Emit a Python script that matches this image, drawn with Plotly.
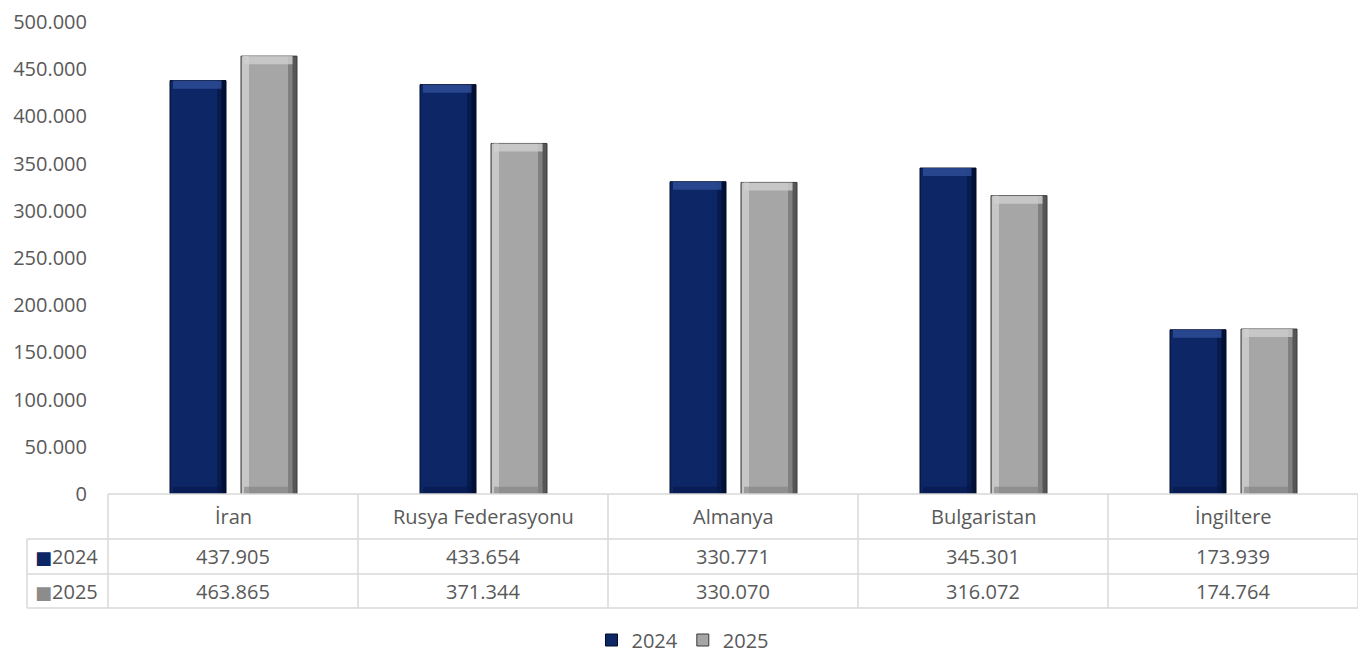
import plotly.graph_objects as go

categories = ["İran", "Rusya Federasyonu", "Almanya", "Bulgaristan", "İngiltere"]
years = ["2024", "2025"]
values_2024 = [437905, 433654, 330771, 345301, 173939]
values_2025 = [463865, 371344, 330070, 316072, 174764]
y_ticks = [0, 50000, 100000, 150000, 200000, 250000, 300000, 350000, 400000, 450000, 500000]

FONT = "Open Sans"
TXT = "#595959"
GRID = "#d9d9d9"
FS = 20

series = [
    dict(name="2024", vals=values_2024, main="#0d2666", top="#2f4f98", right="#000a26",
         left="#163278", bottom="#05184a", offset=-0.252, lop=0.0),
    dict(name="2025", vals=values_2025, main="#a6a6a6", top="#d0d0d0", right="#3a3a3a",
         left="#cfcfcf", bottom="#808080", offset=0.032, lop=0.8),
]
W = 0.224
cap = 8500
fig = go.Figure()
for s in series:
    v = s["vals"]
    fig.add_trace(go.Bar(x=categories, y=v, name=s["name"], width=W, offset=s["offset"],
                         marker=dict(color=s["main"], line=dict(color=s["right"], width=1)),
                         showlegend=True, legendgroup=s["name"]))
    fig.add_trace(go.Bar(x=categories, y=v, width=0.028, offset=s["offset"] + 0.004,
                         marker=dict(color=s["left"], line=dict(width=0)),
                         showlegend=False, hoverinfo="skip", opacity=s["lop"]))
    fig.add_trace(go.Bar(x=categories, y=v, width=0.036, offset=s["offset"] + W - 0.036,
                         marker=dict(color=s["right"], line=dict(width=0)),
                         showlegend=False, hoverinfo="skip", opacity=0.35))
    fig.add_trace(go.Bar(x=categories, y=v, width=0.018, offset=s["offset"] + W - 0.018,
                         marker=dict(color=s["right"], line=dict(width=0)),
                         showlegend=False, hoverinfo="skip", opacity=0.6))
    fig.add_trace(go.Bar(x=categories, y=[cap] * len(v), base=[x - cap for x in v],
                         width=W - 0.03, offset=s["offset"] + 0.012,
                         marker=dict(color=s["top"], line=dict(width=0)),
                         showlegend=False, hoverinfo="skip", opacity=0.8))
    fig.add_trace(go.Bar(x=categories, y=[cap * 0.9] * len(v),
                         width=W - 0.03, offset=s["offset"] + 0.012,
                         marker=dict(color=s["bottom"], line=dict(width=0)),
                         showlegend=False, hoverinfo="skip", opacity=0.6))

T, B = 14, 162
PH = 648 - T - B
row_y = [0, -45 / PH, -80 / PH, -114 / PH]
left_x = (27 - 108) / 1250
shapes = []
line = dict(color=GRID, width=1.5)
shapes.append(dict(type="line", xref="paper", yref="paper", x0=0, x1=1, y0=row_y[0], y1=row_y[0], line=line))
for ry in row_y[1:]:
    shapes.append(dict(type="line", xref="paper", yref="paper", x0=left_x, x1=1, y0=ry, y1=ry, line=line))
shapes.append(dict(type="line", xref="paper", yref="paper", x0=left_x, x1=left_x, y0=row_y[1], y1=row_y[3], line=line))
for i in range(len(categories) + 1):
    xv = i / len(categories)
    shapes.append(dict(type="line", xref="paper", yref="paper", x0=xv, x1=xv, y0=row_y[0], y1=row_y[3], line=line))

def fmt(n):
    return f"{n:,}".replace(",", ".")

ann = []
hy = (row_y[0] + row_y[1]) / 2
r1 = (row_y[1] + row_y[2]) / 2
r2 = (row_y[2] + row_y[3]) / 2
tf = dict(family=FONT, size=FS, color=TXT)
for c, a, b in zip(categories, values_2024, values_2025):
    for yy, t in [(hy, c), (r1, fmt(a)), (r2, fmt(b))]:
        ann.append(dict(x=c, y=yy, xref="x", yref="paper", text=t, showarrow=False,
                        xanchor="center", yanchor="middle", font=tf))
key_cols = ["#0d2666", "#8c8c8c"]
for yr, ry, kc in zip(years, [r1, r2], key_cols):
    ann.append(dict(x=(66 - 108) / 1250, y=ry, xref="paper", yref="paper",
                    text=f"<span style='color:{kc}; font-family:DejaVu Sans; font-size:18px'>■</span>{yr}",
                    showarrow=False, xanchor="center", yanchor="middle", font=tf))

fig.update_layout(
    width=1358, height=648, autosize=False,
    margin=dict(l=100, r=8, t=T, b=B, autoexpand=False),
    paper_bgcolor="white", plot_bgcolor="white",
    barmode="overlay",
    separators=",.",
    font=tf,
    xaxis=dict(range=[-0.5, 4.5], showticklabels=False, showgrid=False, zeroline=False,
               showline=False, ticks="", automargin=False),
    yaxis=dict(range=[0, 500000], tickvals=y_ticks, tickformat=",d", showgrid=False,
               zeroline=False, showline=False, ticks="", ticklabelstandoff=20, automargin=False,
               ticklabeloverflow="allow", tickfont=tf),
    legend=dict(orientation="h", x=0.46, xanchor="center", y=-146 / PH, yanchor="middle",
                font=tf, itemwidth=30, tracegroupgap=0),
    shapes=shapes, annotations=ann,
)
fig.write_html("out.html")
